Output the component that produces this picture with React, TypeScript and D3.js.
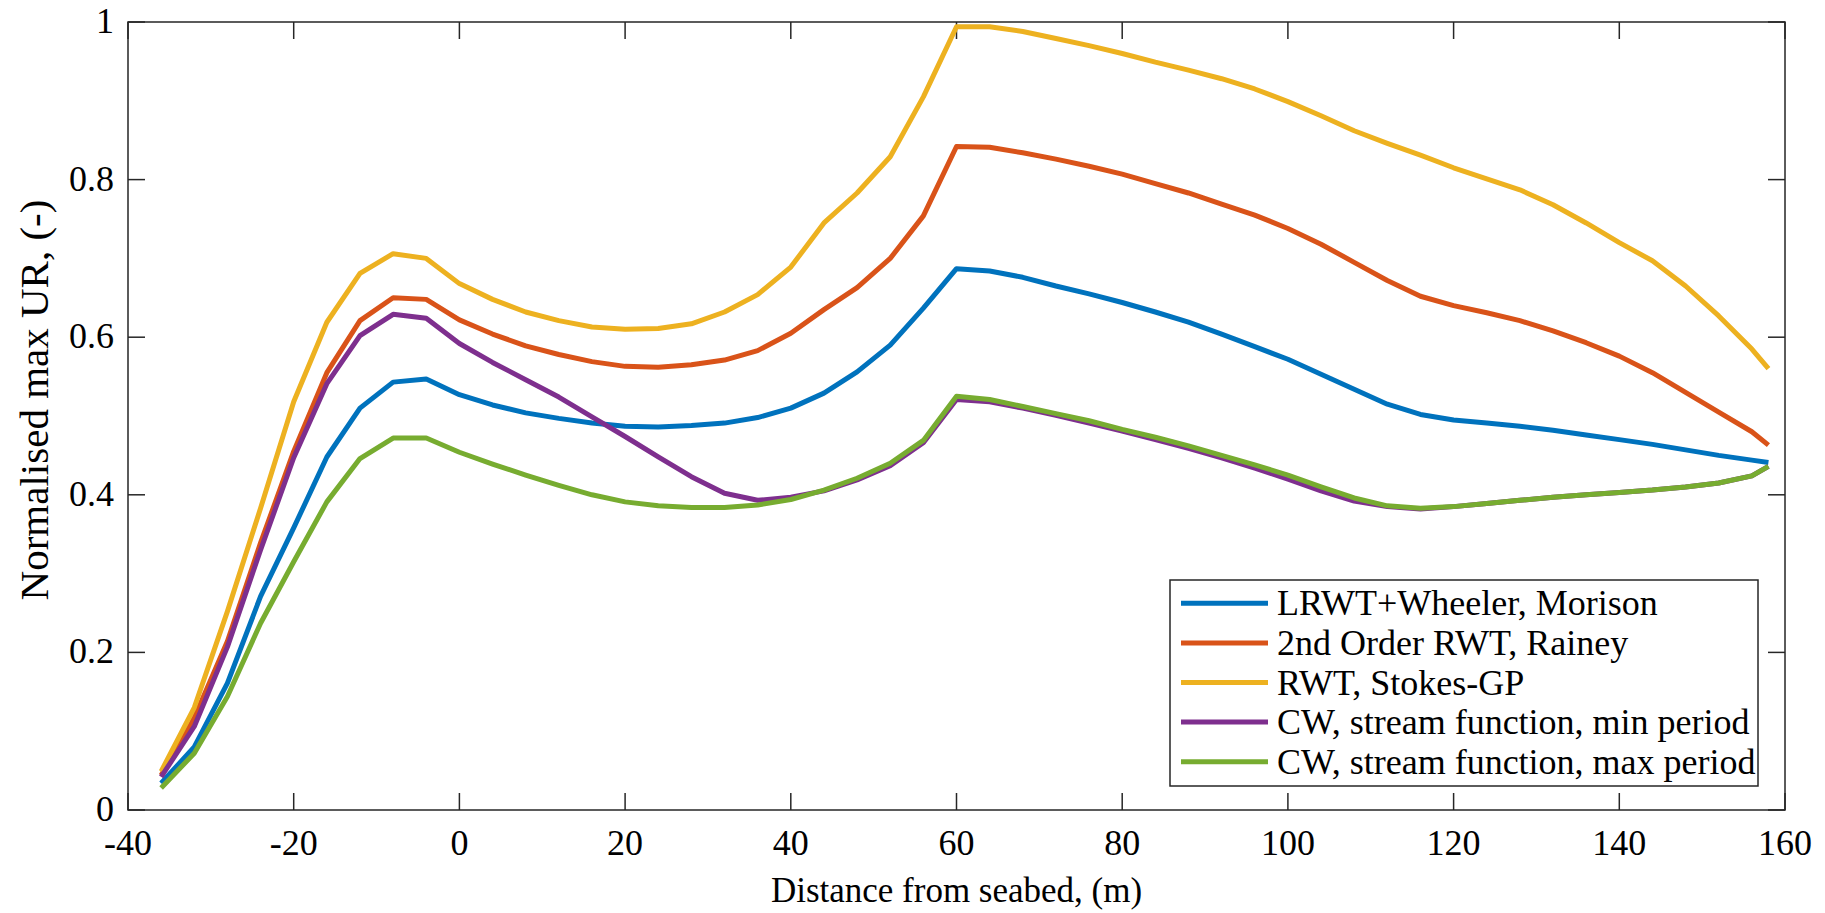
import React from 'react';
import * as d3 from 'd3';

// distance from seabed (m)
const depth = [
  -36, -32, -28, -24, -20, -16, -12, -8, -4, 0, 4, 8, 12, 16, 20, 24, 28, 32, 36, 40, 44, 48, 52, 56, 60,
  64, 68, 72, 76, 80, 84, 88, 92, 96, 100, 104, 108, 112, 116, 120, 124, 128, 132, 136, 140, 144, 148, 152, 156, 158,
];

const lrwtMorison = [
  0.034, 0.080, 0.161, 0.271, 0.358, 0.448, 0.510, 0.543, 0.547, 0.527, 0.514, 0.504, 0.497, 0.491, 0.487, 0.486, 0.488, 0.491, 0.498, 0.510, 0.529, 0.556, 0.590, 0.637, 0.687,
  0.684, 0.676, 0.665, 0.655, 0.644, 0.632, 0.619, 0.604, 0.588, 0.572, 0.553, 0.534, 0.515, 0.502, 0.495, 0.491, 0.487, 0.482, 0.476, 0.470, 0.464, 0.457, 0.450, 0.444, 0.441,
];

const rwt2Rainey = [
  0.044, 0.117, 0.214, 0.339, 0.455, 0.555, 0.621, 0.650, 0.648, 0.622, 0.604, 0.589, 0.578, 0.569, 0.563, 0.562, 0.565, 0.571, 0.583, 0.605, 0.635, 0.663, 0.700, 0.754, 0.842,
  0.841, 0.834, 0.826, 0.817, 0.807, 0.795, 0.783, 0.769, 0.755, 0.738, 0.718, 0.695, 0.672, 0.652, 0.640, 0.631, 0.621, 0.608, 0.593, 0.576, 0.555, 0.530, 0.505, 0.480, 0.463,
];

const rwtStokes = [
  0.049, 0.130, 0.252, 0.383, 0.518, 0.619, 0.681, 0.706, 0.700, 0.668, 0.648, 0.632, 0.621, 0.613, 0.610, 0.611, 0.617, 0.632, 0.654, 0.689, 0.745, 0.783, 0.829, 0.905, 0.994,
  0.994, 0.988, 0.979, 0.970, 0.960, 0.949, 0.939, 0.928, 0.915, 0.899, 0.881, 0.862, 0.846, 0.831, 0.815, 0.801, 0.787, 0.768, 0.745, 0.720, 0.697, 0.665, 0.627, 0.585, 0.560,
];

const cwMinPeriod = [
  0.042, 0.106, 0.207, 0.330, 0.447, 0.541, 0.602, 0.629, 0.624, 0.592, 0.568, 0.546, 0.524, 0.499, 0.474, 0.448, 0.423, 0.402, 0.393, 0.397, 0.405, 0.419, 0.437, 0.466, 0.521,
  0.518, 0.510, 0.501, 0.491, 0.481, 0.470, 0.459, 0.447, 0.434, 0.420, 0.405, 0.392, 0.385, 0.382, 0.385, 0.389, 0.393, 0.397, 0.400, 0.403, 0.406, 0.410, 0.415, 0.424, 0.436,
];

const cwMaxPeriod = [
  0.028, 0.072, 0.144, 0.237, 0.315, 0.391, 0.446, 0.472, 0.472, 0.454, 0.439, 0.425, 0.412, 0.400, 0.391, 0.386, 0.384, 0.384, 0.387, 0.394, 0.406, 0.421, 0.440, 0.469, 0.525,
  0.521, 0.512, 0.503, 0.494, 0.483, 0.473, 0.462, 0.450, 0.438, 0.425, 0.410, 0.396, 0.386, 0.383, 0.385, 0.389, 0.393, 0.397, 0.400, 0.403, 0.406, 0.410, 0.415, 0.424, 0.436,
];

const seriesNames = [
  'LRWT+Wheeler, Morison',
  '2nd Order RWT, Rainey',
  'RWT, Stokes-GP',
  'CW, stream function, min period',
  'CW, stream function, max period',
];
const seriesValues = [lrwtMorison, rwt2Rainey, rwtStokes, cwMinPeriod, cwMaxPeriod];
const colors = ['#0072BD', '#D95319', '#EDB120', '#7E2F8E', '#77AC30'];

const xTicks = [-40, -20, 0, 20, 40, 60, 80, 100, 120, 140, 160];
const yTicks = [0, 0.2, 0.4, 0.6, 0.8, 1];

const W = 1825;
const H = 913;
const margin = { left: 128, top: 22, right: 1785, bottom: 810 };
const font = '"Liberation Serif", "DejaVu Serif", serif';
const axisColor = '#262626';

export default function App() {
  const x = d3.scaleLinear().domain([-40, 160]).range([margin.left, margin.right]);
  const y = d3.scaleLinear().domain([0, 1]).range([margin.bottom, margin.top]);
  const line = d3
    .line<number>()
    .x((_, i) => x(depth[i]))
    .y((d) => y(d));

  const tickLen = 17;
  const legend = { x: 1170, y: 580, w: 588, h: 206 };
  const rowH = 39.6;

  return (
    <svg
      width={W}
      height={H}
      style={{ position: 'absolute', left: 0, top: 0, background: '#fff' }}
      fontFamily={font}
    >
      <rect x={0} y={0} width={W} height={H} fill="#fff" />

      {/* ticks, all four sides, pointing in */}
      <g stroke={axisColor} strokeWidth={1.5}>
        {xTicks.map((t) => (
          <g key={'xt' + t}>
            <line x1={x(t)} x2={x(t)} y1={margin.bottom} y2={margin.bottom - tickLen} />
            <line x1={x(t)} x2={x(t)} y1={margin.top} y2={margin.top + tickLen} />
          </g>
        ))}
        {yTicks.map((t) => (
          <g key={'yt' + t}>
            <line x1={margin.left} x2={margin.left + tickLen} y1={y(t)} y2={y(t)} />
            <line x1={margin.right} x2={margin.right - tickLen} y1={y(t)} y2={y(t)} />
          </g>
        ))}
      </g>

      {/* curves */}
      <g fill="none" strokeWidth={5} strokeLinejoin="round">
        {seriesValues.map((vals, i) => (
          <path key={seriesNames[i]} d={line(vals) ?? ''} stroke={colors[i]} />
        ))}
      </g>

      {/* box */}
      <rect
        x={margin.left}
        y={margin.top}
        width={margin.right - margin.left}
        height={margin.bottom - margin.top}
        fill="none"
        stroke={axisColor}
        strokeWidth={1.5}
      />

      {/* tick labels */}
      <g fontSize={36} fill="#000">
        {xTicks.map((t) => (
          <text key={'xl' + t} x={x(t)} y={855} textAnchor="middle">
            {String(t)}
          </text>
        ))}
        {yTicks.map((t) => (
          <text key={'yl' + t} x={114} y={y(t) + 11} textAnchor="end">
            {String(t)}
          </text>
        ))}
      </g>

      {/* axis labels */}
      <text x={(margin.left + margin.right) / 2} y={902} fontSize={35} textAnchor="middle">
        Distance from seabed, (m)
      </text>
      <text transform="translate(48, 400) rotate(-90)" fontSize={41} textAnchor="middle">
        Normalised max UR, (-)
      </text>

      {/* legend */}
      <g>
        <rect x={legend.x} y={legend.y} width={legend.w} height={legend.h} fill="#fff" stroke={axisColor} strokeWidth={1.5} />
        {seriesNames.map((name, i) => {
          const cy = 603.3 + i * rowH;
          return (
            <g key={'lg' + i}>
              <line x1={1181} x2={1268} y1={cy} y2={cy} stroke={colors[i]} strokeWidth={5} />
              <text x={1277} y={cy + 12} fontSize={36}>
                {name}
              </text>
            </g>
          );
        })}
      </g>
    </svg>
  );
}
